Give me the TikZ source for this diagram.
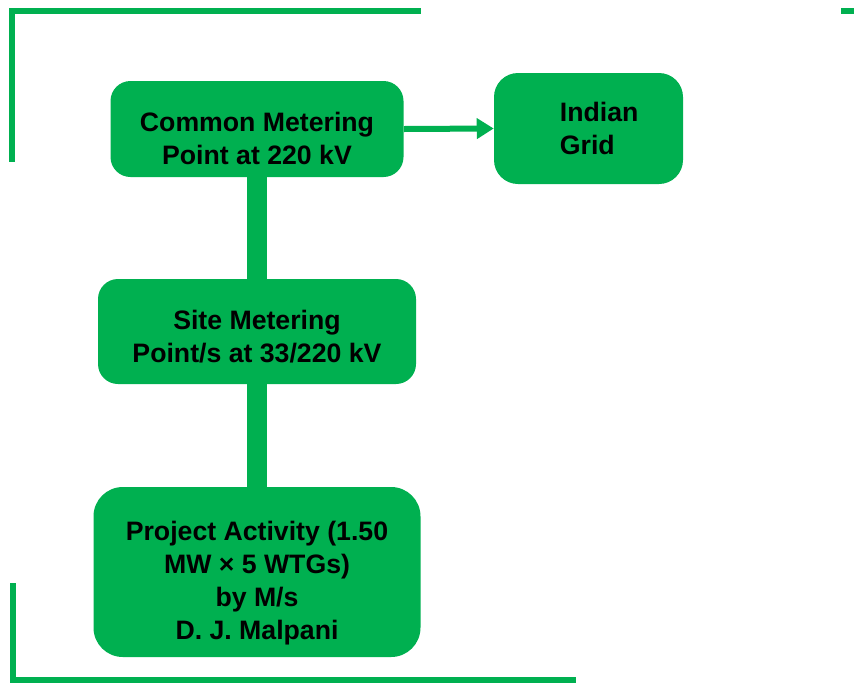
\documentclass[tikz,border=0pt]{standalone}
\usepackage{fontspec}
\setmainfont{Liberation Sans}
\usetikzlibrary{arrows.meta}
\definecolor{offgreen}{HTML}{00B050}
\tikzset{blk/.style={fill=offgreen,rounded corners=15pt,inner sep=0pt}}
\tikzset{lbl/.style={font=\bfseries\fontsize{20}{24.75}\selectfont,align=center,text=black}}
\tikzset{rim/.style={offgreen,line width=4.5pt}}
\tikzset{link/.style={offgreen,line width=15pt}}

\begin{document}
\begin{tikzpicture}[x=0.75pt,y=-0.75pt]
                \useasboundingbox (0,0) rectangle (854,683);
                % frame corners
                \draw[rim] (9,11) -- (421,11);
                \draw[rim] (12,8) -- (12,162);
                \draw[rim] (841,11) -- (854,11);
                \draw[rim] (13,583) -- (13,683);
                \draw[rim] (10,680) -- (576,680);
                % boxes
                \node[blk,minimum width=219.75pt,minimum height=72pt] (cmp) at (257,129)
                    {\phantom{x}};
                \node[lbl] (cmptxt) at ([yshift=-7pt]cmp.center) {Common Metering\\Point at 220 kV};
                \node[blk,rounded corners=18pt,minimum width=141.75pt,minimum height=83.25pt] (grid) at (588.5,128.5)
                    {\phantom{x}};
                \node[lbl,align=left] (gridtxt) at ([xshift=8pt]grid.center) {Indian\\Grid};
                \node[blk,minimum width=238.5pt,minimum height=78.75pt] (smp) at (257,331.5)
                    {\phantom{x}};
                \node[lbl] (smptxt) at ([yshift=-3.5pt]smp.center) {Site Metering\\Point/s at 33/220 kV};
                \node[blk,rounded corners=22pt,minimum width=245.25pt,minimum height=127.5pt] (proj) at (257,572)
                    {\phantom{x}};
                \node[lbl] (projtxt) at ([yshift=-8.5pt]proj.center) {Project Activity (1.50\\MW × 5 WTGs)\\by M/s\\D. J. Malpani};
                % links
                \draw[link] (cmp.south) -- (smp.north);
                \draw[link] (smp.south) -- (proj.north);
                \draw[offgreen,line width=4.5pt,-{Triangle[length=12.75pt,width=15pt]}] (cmp.east) -- (grid.west);
            \end{tikzpicture}
\end{document}
